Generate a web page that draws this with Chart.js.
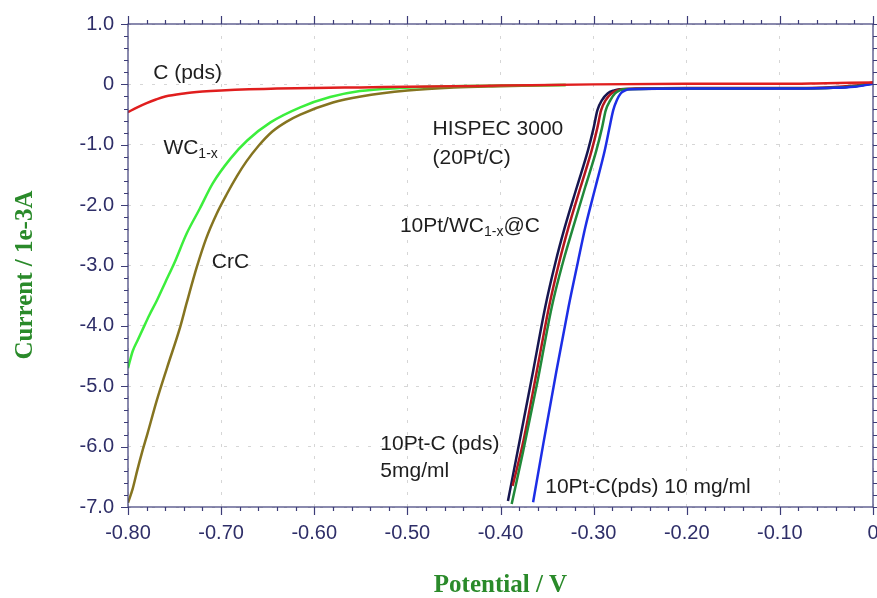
<!DOCTYPE html>
<html>
<head>
<meta charset="utf-8">
<script src="https://cdn.jsdelivr.net/npm/chart.js@4.4.1/dist/chart.umd.min.js"></script>
<style>
  html, body { margin: 0; padding: 0; background: #fff; }
  #wrap { width: 877px; height: 598px; }
</style>
</head>
<body>
<div id="wrap"><canvas id="lsv"></canvas></div>
<script>
// polarisation curves, potential (V) vs current (1e-3 A)
const cPdsV = [-0.80, -0.79, -0.78, -0.77, -0.76, -0.74, -0.72, -0.70, -0.67, -0.64, -0.60, -0.55, -0.50, -0.45, -0.40, -0.30, -0.20, -0.10, -0.05, 0.00];
const cPdsI = [-0.46, -0.38, -0.31, -0.25, -0.20, -0.15, -0.12, -0.10, -0.08, -0.07, -0.06, -0.05, -0.04, -0.03, -0.02, 0.00, 0.01, 0.01, 0.02, 0.03];

const wcV = [-0.800, -0.795, -0.790, -0.784, -0.777, -0.769, -0.760, -0.750, -0.737, -0.723, -0.709, -0.690, -0.672, -0.647, -0.615, -0.583, -0.551, -0.508, -0.454, -0.400, -0.330];
const wcI = [-4.70, -4.42, -4.25, -4.05, -3.82, -3.58, -3.28, -2.95, -2.47, -2.06, -1.64, -1.23, -0.93, -0.63, -0.38, -0.21, -0.11, -0.06, -0.03, -0.02, -0.01];

const crcV = [-0.800, -0.795, -0.790, -0.785, -0.779, -0.769, -0.758, -0.744, -0.737, -0.726, -0.716, -0.705, -0.694, -0.683, -0.673, -0.660, -0.645, -0.630, -0.615, -0.580, -0.550, -0.500, -0.450, -0.400, -0.330];
const crcI = [-6.93, -6.70, -6.39, -6.10, -5.78, -5.23, -4.69, -4.02, -3.62, -3.02, -2.55, -2.15, -1.82, -1.52, -1.28, -1.02, -0.78, -0.62, -0.50, -0.30, -0.20, -0.10, -0.05, -0.03, -0.01];

const hispecV = [-0.392, -0.380, -0.365, -0.352, -0.341, -0.331, -0.318, -0.306, -0.300, -0.296, -0.291, -0.285, -0.278, -0.272, -0.260, -0.200, -0.150, -0.100, -0.050, -0.020, 0.000];
const hispecI = [-6.90, -5.95, -4.75, -3.69, -2.95, -2.37, -1.70, -1.09, -0.72, -0.43, -0.26, -0.15, -0.10, -0.08, -0.075, -0.07, -0.07, -0.065, -0.06, -0.03, 0.02];

const ptWcV = [-0.387, -0.376, -0.361, -0.348, -0.337, -0.327, -0.314, -0.302, -0.296, -0.292, -0.287, -0.281, -0.275, -0.270, -0.255, -0.200, -0.150, -0.100, -0.050, -0.020, 0.000];
const ptWcI = [-6.65, -5.95, -4.75, -3.69, -2.95, -2.37, -1.70, -1.09, -0.72, -0.43, -0.26, -0.15, -0.10, -0.08, -0.07, -0.06, -0.06, -0.06, -0.05, -0.02, 0.03];

const pt5V = [-0.388, -0.376, -0.360, -0.345, -0.333, -0.322, -0.309, -0.297, -0.291, -0.287, -0.282, -0.277, -0.272, -0.268, -0.255, -0.200, -0.150, -0.100, -0.050, -0.020, 0.000];
const pt5I = [-6.95, -6.10, -4.90, -3.69, -2.95, -2.37, -1.70, -1.09, -0.72, -0.43, -0.26, -0.15, -0.10, -0.08, -0.075, -0.07, -0.07, -0.065, -0.06, -0.03, 0.01];

const pt10V = [-0.365, -0.354, -0.340, -0.327, -0.317, -0.309, -0.298, -0.288, -0.283, -0.279, -0.275, -0.271, -0.266, -0.262, -0.250, -0.200, -0.150, -0.100, -0.050, -0.020, 0.000];
const pt10I = [-6.92, -5.95, -4.75, -3.69, -2.95, -2.37, -1.70, -1.09, -0.72, -0.43, -0.26, -0.15, -0.10, -0.08, -0.075, -0.07, -0.07, -0.07, -0.06, -0.04, 0.01];

const xTicks = [-0.8, -0.7, -0.6, -0.5, -0.4, -0.3, -0.2, -0.1, 0];
const yTicks = [1, 0, -1, -2, -3, -4, -5, -6, -7];

// text written on the plot, placed in data units
const notes = [
    { text: 'C (pds)', x: -0.773, y: 0.18 },
    { text: 'WC', sub: '1-x', x: -0.762, y: -1.06 },
    { text: 'CrC', x: -0.710, y: -2.95 },
    { text: 'HISPEC 3000', x: -0.473, y: -0.745 },
    { text: '(20Pt/C)', x: -0.473, y: -1.225 },
    { text: '10Pt/WC', sub: '1-x', after: '@C', x: -0.508, y: -2.35 },
    { text: '10Pt-C (pds)', x: -0.529, y: -5.96 },
    { text: '5mg/ml', x: -0.529, y: -6.40 },
    { text: '10Pt-C(pds) 10 mg/ml', x: -0.352, y: -6.68 },
];

const axisColor = '#3c3c78';
const labelColor = '#2e2e68';
const titleColor = '#2a8a2a';

function pts(xs, ys) {
    return xs.map((v, i) => ({ x: v, y: ys[i] }));
}

function series(label, xs, ys, color) {
    return {
        label: label,
        data: pts(xs, ys),
        borderColor: color,
        borderWidth: 2.5,
        pointRadius: 0,
        cubicInterpolationMode: 'monotone',
        fill: false,
    };
}

// frame on all four sides with major + minor ticks, plus axis titles
const framePlugin = {
    id: 'frame',
    afterDraw(chart) {
        const { ctx, chartArea: a, scales: { x, y } } = chart;
        ctx.save();
        ctx.strokeStyle = axisColor;
        ctx.lineWidth = 1.2;
        ctx.strokeRect(a.left, a.top, a.right - a.left, a.bottom - a.top);
        ctx.beginPath();
        for (let i = 0; i <= 40; i++) {
            const px = Math.round(x.getPixelForValue(-0.8 + i * 0.02)) + 0.5;
            const len = i % 5 === 0 ? 8 : 4;
            ctx.moveTo(px, a.bottom); ctx.lineTo(px, a.bottom + len);
            ctx.moveTo(px, a.top); ctx.lineTo(px, a.top - len);
        }
        for (let i = 0; i <= 40; i++) {
            const py = Math.round(y.getPixelForValue(1 - i * 0.2)) + 0.5;
            const len = i % 5 === 0 ? 7 : 4;
            ctx.moveTo(a.left, py); ctx.lineTo(a.left - len, py);
            ctx.moveTo(a.right, py); ctx.lineTo(a.right + len, py);
        }
        ctx.stroke();

        // axis titles
        ctx.fillStyle = titleColor;
        ctx.font = 'bold 25px "Liberation Serif", "Times New Roman", serif';
        ctx.textAlign = 'center';
        ctx.textBaseline = 'middle';
        ctx.fillText('Potential / V', (a.left + a.right) / 2, 586);
        ctx.translate(26, 275);
        ctx.rotate(-Math.PI / 2);
        ctx.fillText('Current / 1e-3A', 0, 0);
        ctx.restore();
    }
};

const notesPlugin = {
    id: 'notes',
    afterDatasetsDraw(chart) {
        const { ctx, scales: { x, y } } = chart;
        ctx.save();
        ctx.fillStyle = '#1e1e1e';
        ctx.textBaseline = 'middle';
        ctx.textAlign = 'left';
        notes.forEach(n => {
            let px = x.getPixelForValue(n.x);
            const py = y.getPixelForValue(n.y);
            ctx.font = '21px "Liberation Sans", Arial, sans-serif';
            ctx.fillText(n.text, px, py);
            px += ctx.measureText(n.text).width;
            if (n.sub) {
                ctx.font = '14px "Liberation Sans", Arial, sans-serif';
                ctx.fillText(n.sub, px, py + 6);
                px += ctx.measureText(n.sub).width;
            }
            if (n.after) {
                ctx.font = '21px "Liberation Sans", Arial, sans-serif';
                ctx.fillText(n.after, px, py);
            }
        });
        ctx.restore();
    }
};

const ctx = document.getElementById('lsv').getContext('2d');
new Chart(ctx, {
    type: 'line',
    data: {
        datasets: [
            series('C (pds)', cPdsV, cPdsI, '#e01e1e'),
            series('WC1-x', wcV, wcI, '#3cee3c'),
            series('CrC', crcV, crcI, '#857420'),
            series('10Pt-C(pds) 10 mg/ml', pt10V, pt10I, '#1c2ee6'),
            series('10Pt-C (pds) 5mg/ml', pt5V, pt5I, '#20893a'),
            series('10Pt/WC1-x@C', ptWcV, ptWcI, '#b3161e'),
            series('HISPEC 3000 (20Pt/C)', hispecV, hispecI, '#161650'),
        ],
    },
    options: {
        responsive: true,
        maintainAspectRatio: false,
        animation: false,
        layout: { padding: { top: 24, right: 4, left: 0, bottom: 0 } },
        plugins: {
            legend: { display: false },
            tooltip: { enabled: false },
        },
        scales: {
            x: {
                type: 'linear',
                min: -0.8,
                max: 0,
                afterBuildTicks: s => { s.ticks = xTicks.map(v => ({ value: v })); },
                afterFit: s => { s.height = 91; s.paddingLeft = 0; s.paddingRight = 0; },
                ticks: {
                    color: labelColor,
                    font: { family: '"Liberation Sans", Arial, sans-serif', size: 20 },
                    padding: 14,
                    maxRotation: 0,
                    callback: v => (v === 0 ? '0' : v.toFixed(2)),
                },
                grid: {
                    color: '#d6d6d6',
                    lineWidth: 1,
                    drawTicks: false,
                },
                border: { display: false, dash: [3, 9] },
            },
            y: {
                min: -7,
                max: 1,
                afterBuildTicks: s => { s.ticks = yTicks.map(v => ({ value: v })); },
                afterFit: s => { s.width = 128; s.paddingTop = 0; s.paddingBottom = 0; },
                ticks: {
                    color: labelColor,
                    font: { family: '"Liberation Sans", Arial, sans-serif', size: 20 },
                    padding: 14,
                    callback: v => (v === 0 ? '0' : v.toFixed(1)),
                },
                grid: {
                    color: '#d6d6d6',
                    lineWidth: 1,
                    drawTicks: false,
                },
                border: { display: false, dash: [3, 9] },
            },
        },
    },
    plugins: [framePlugin, notesPlugin],
});
</script>
</body>
</html>
